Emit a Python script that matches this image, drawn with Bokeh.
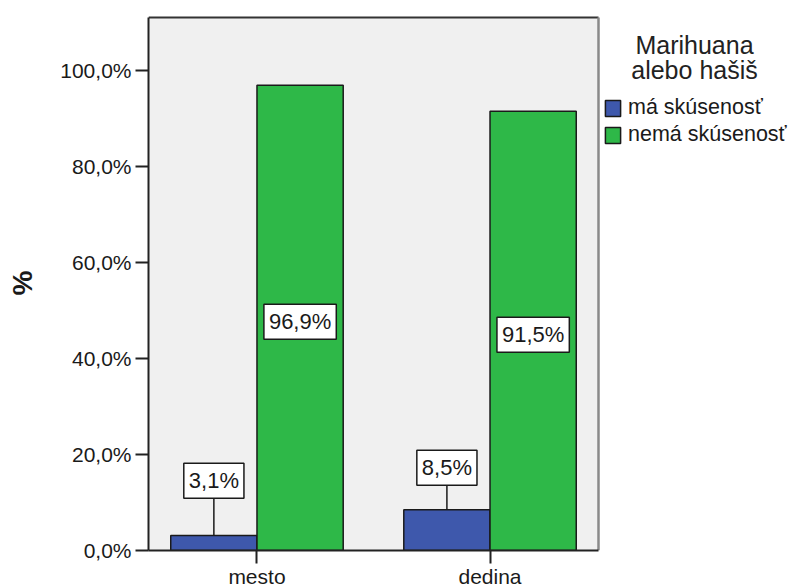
from bokeh.plotting import figure
from bokeh.models import Range1d, FixedTicker, Legend, LegendItem, Label, ColumnDataSource
from bokeh.embed import file_html
from bokeh.resources import INLINE
from bokeh.core.properties import value

# ---- data ----
categories = ["mesto", "dedina"]
series_names = ["má skúsenosť", "nemá skúsenosť"]
ma_skusenost = [3.1, 8.5]
nema_skusenost = [96.9, 91.5]
value_labels_ma = ["3,1%", "8,5%"]
value_labels_nema = ["96,9%", "91,5%"]
y_ticks = [0, 20, 40, 60, 80, 100]
y_tick_labels = ["0,0%", "20,0%", "40,0%", "60,0%", "80,0%", "100,0%"]
legend_title = ["Marihuana", "alebo hašiš"]
y_axis_title = "%"
colors = ["#3E58AC", "#2EB848"]

# ---- layout constants ----
FONT = "Liberation Sans"
BAR_W = 0.37
X_START, X_BOX_END = 0.5345, 2.4655       # plot-area extent (data units)
PX_PER_X = 450 / (X_BOX_END - X_START)
FRAME_W, FRAME_H = 644, 535
X_END = X_START + FRAME_W / PX_PER_X
PLOT_TOP, Y_END = 111.0, 111.42

x_pos = [i + 1 for i in range(len(categories))]

p = figure(frame_width=FRAME_W, frame_height=FRAME_H,
           x_range=Range1d(X_START, X_END), y_range=Range1d(0, Y_END),
           output_backend="svg", toolbar_location=None,
           min_border_left=148, min_border_right=0,
           min_border_top=15, min_border_bottom=30)
p.background_fill_color = "white"
p.border_fill_color = "white"
p.outline_line_color = None
p.grid.visible = False

# plot-area background and border
p.quad(left=[X_START], right=[X_BOX_END], bottom=[0], top=[PLOT_TOP],
       fill_color="#F0F0F0", line_color=None)
p.segment(x0=[X_START], y0=[PLOT_TOP], x1=[X_BOX_END], y1=[PLOT_TOP],
          line_color="#333333", line_width=2)
p.segment(x0=[X_BOX_END], y0=[0], x1=[X_BOX_END], y1=[PLOT_TOP],
          line_color="#8a8a8a", line_width=2.5)

series = [ma_skusenost, nema_skusenost]
labels = [value_labels_ma, value_labels_nema]
renderers = []
label_sets = []
for k, (vals, labs, col) in enumerate(zip(series, labels, colors)):
    left = [x - BAR_W if k == 0 else x for x in x_pos]
    right = [x if k == 0 else x + BAR_W for x in x_pos]
    src = ColumnDataSource(dict(left=left, right=right, top=vals,
                                bottom=[0] * len(vals)))
    r = p.quad(left="left", right="right", top="top", bottom="bottom",
               source=src, fill_color=col, line_color="#1a1a1a", line_width=1.5)
    renderers.append(r)
    cx = [(a + b) / 2 for a, b in zip(left, right)]
    label_sets.append((cx, vals, labs))

# value labels
for cx, vals, labs in label_sets:
    out_x, out_v, out_y, out_t = [], [], [], []
    in_x, in_y, in_t = [], [], []
    for x, v, t in zip(cx, vals, labs):
        if v < 20:
            out_x.append(x); out_v.append(v); out_y.append(v / 2 + 13); out_t.append(t)
        else:
            in_x.append(x); in_y.append(v / 2); in_t.append(t)
    if out_x:
        p.segment(x0=out_x, y0=out_v, x1=out_x, y1=out_y,
                  line_color="#1a1a1a", line_width=1.5)
        p.text(x=out_x, y=out_y, text=out_t, text_align="center",
               text_baseline="middle", text_font=value(FONT),
               text_font_size="22px", text_color="#1a1a1a",
               background_fill_color="white", border_line_color="#1a1a1a",
               border_line_width=1.5, padding=5)
    if in_x:
        p.text(x=in_x, y=in_y, text=in_t, text_align="center",
               text_baseline="middle", text_font=value(FONT),
               text_font_size="22px", text_color="#1a1a1a", y_offset=4,
               background_fill_color="white", border_line_color="#1a1a1a",
               border_line_width=1.5, padding=5)

# axes
for ax in (p.xaxis[0], p.yaxis[0]):
    ax.axis_line_color = "#222222"
    ax.axis_line_width = 2
    ax.major_tick_line_color = "#222222"
    ax.major_tick_line_width = 2
    ax.minor_tick_line_color = None
    ax.major_tick_in = 0
    ax.major_label_text_font = FONT
    ax.major_label_text_font_size = "21px"
    ax.major_label_text_color = "#1a1a1a"

p.xaxis.bounds = (X_START, X_BOX_END)
p.xaxis.ticker = FixedTicker(ticks=x_pos)
p.xaxis.major_label_overrides = {x: c for x, c in zip(x_pos, categories)}
p.xaxis.major_tick_out = 13
p.xaxis.major_label_standoff = 1

p.yaxis.bounds = (0, PLOT_TOP)
p.yaxis.ticker = FixedTicker(ticks=y_ticks)
p.yaxis.major_label_overrides = {t: s for t, s in zip(y_ticks, y_tick_labels)}
p.yaxis.major_tick_out = 13
p.yaxis.major_label_standoff = 4
p.yaxis.axis_label = y_axis_title
p.yaxis.axis_label_text_font = FONT
p.yaxis.axis_label_text_font_size = "28px"
p.yaxis.axis_label_text_font_style = "bold"
p.yaxis.axis_label_text_color = "#1a1a1a"
p.yaxis.axis_label_standoff = 19

# legend (inside the frame, to the right of the plot area)
legend = Legend(items=[LegendItem(label=n, renderers=[r])
                       for n, r in zip(series_names, renderers)],
                location=(455, 403), orientation="vertical",
                glyph_width=19, glyph_height=20, label_height=20,
                label_standoff=6, spacing=2, padding=0, margin=0,
                label_text_font=FONT, label_text_font_size="21.5px",
                label_text_color="#1a1a1a",
                border_line_color=None, background_fill_alpha=0)
p.add_layout(legend)

for i, line in enumerate(legend_title):
    p.add_layout(Label(x=546, y=506 - 25 * i, x_units="screen", y_units="screen",
                       text=line, text_align="center", text_baseline="alphabetic",
                       text_font=FONT, text_font_size="25px", text_color="#222222"))

open("out.html", "w").write(file_html(p, INLINE))
